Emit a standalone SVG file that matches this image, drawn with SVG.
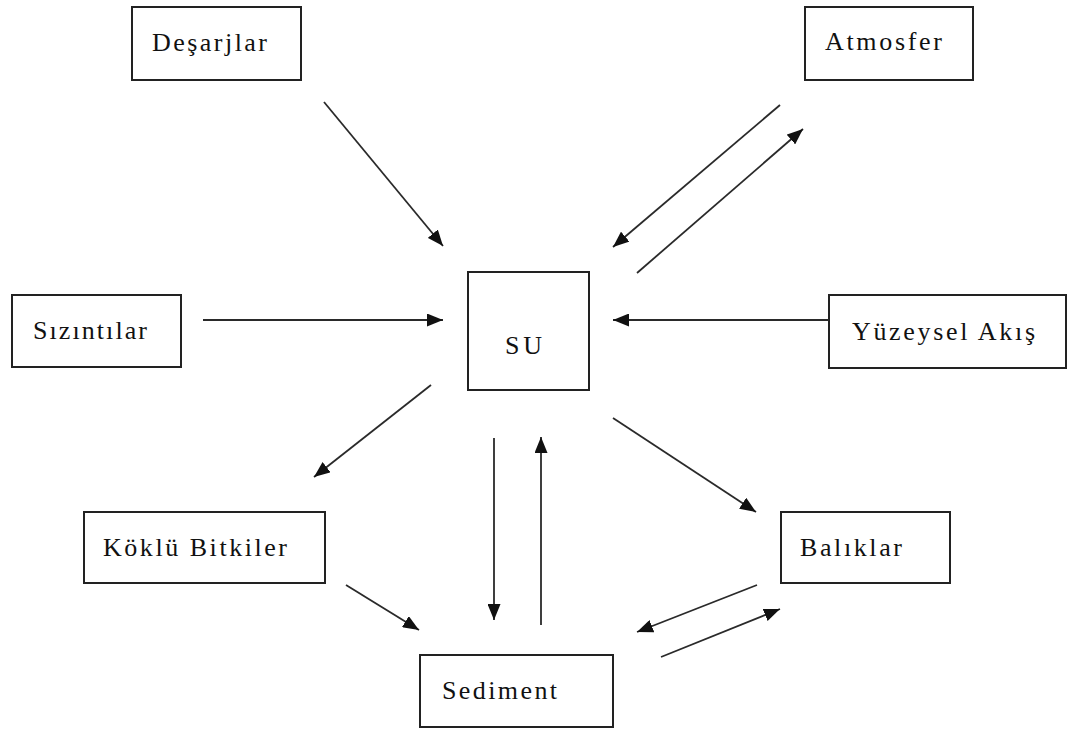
<svg xmlns="http://www.w3.org/2000/svg" width="1069" height="731" viewBox="0 0 1069 731">
<style>
.box{fill:#fff;stroke:#222;stroke-width:2}
.ar{stroke:#2a2a2a;stroke-width:1.8;fill:none;marker-end:url(#ah)}
</style>
<defs>
<marker id="ah" markerUnits="userSpaceOnUse" markerWidth="17" markerHeight="13" refX="16" refY="6.5" orient="auto">
<path d="M0,0 L16,6.5 L0,13 Z" fill="#111"/>
</marker>
</defs>
<rect width="1069" height="731" fill="#fff"/>
<g font-family="Liberation Serif, DejaVu Serif, serif" font-size="26" fill="#111">
<g id="desarjlar"><rect class="box" x="132" y="7" width="169" height="73"/><text x="152" y="51" textLength="115" lengthAdjust="spacing">Deşarjlar</text></g>
<g id="atmosfer"><rect class="box" x="805" y="7" width="168" height="73"/><text x="825" y="50" textLength="117" lengthAdjust="spacing">Atmosfer</text></g>
<g id="sizintilar"><rect class="box" x="12" y="295" width="169" height="72"/><text x="33" y="339" textLength="114" lengthAdjust="spacing">Sızıntılar</text></g>
<g id="su"><rect class="box" x="468" y="272" width="121" height="118"/><text x="505" y="354" textLength="37" lengthAdjust="spacing">SU</text></g>
<g id="yuzeysel"><rect class="box" x="829" y="295" width="237" height="73"/><text x="852" y="340" textLength="183" lengthAdjust="spacing">Yüzeysel Akış</text></g>
<g id="koklu"><rect class="box" x="84" y="512" width="241" height="71"/><text x="103" y="556" textLength="184" lengthAdjust="spacing">Köklü Bitkiler</text></g>
<g id="baliklar"><rect class="box" x="781" y="512" width="169" height="71"/><text x="800" y="556" textLength="102" lengthAdjust="spacing">Balıklar</text></g>
<g id="sediment"><rect class="box" x="420" y="655" width="193" height="72"/><text x="442" y="699" textLength="115" lengthAdjust="spacing">Sediment</text></g>
</g>
<g id="connectors">
<line class="ar" x1="324" y1="102" x2="443" y2="246"/>
<line class="ar" x1="780" y1="105" x2="613" y2="247"/>
<line class="ar" x1="637" y1="273" x2="803" y2="129"/>
<line class="ar" x1="203" y1="320" x2="443" y2="320"/>
<line class="ar" x1="829" y1="320" x2="613" y2="320"/>
<line class="ar" x1="431" y1="385" x2="314" y2="477"/>
<line class="ar" x1="494" y1="438" x2="494" y2="620"/>
<line class="ar" x1="541" y1="625" x2="541" y2="437"/>
<line class="ar" x1="613" y1="418" x2="756" y2="512"/>
<line class="ar" x1="346" y1="585" x2="419" y2="630"/>
<line class="ar" x1="757" y1="585" x2="637" y2="632"/>
<line class="ar" x1="661" y1="657" x2="780" y2="609"/>
</g>
</svg>
